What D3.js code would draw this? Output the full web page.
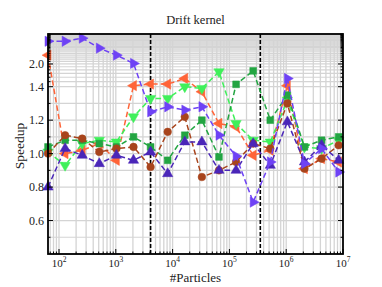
<!DOCTYPE html>
<html>
<head>
<meta charset="utf-8">
<script src="https://cdn.jsdelivr.net/npm/d3@7"></script>
<style>
  body { margin: 0; background: #fff; }
  text { font-family: "Liberation Serif", "DejaVu Serif", serif; fill: #222; }
</style>
</head>
<body>
<svg class="chart" width="382" height="287"></svg>
<script>
// particle counts: powers of two 2^6 .. 2^23
var particles = d3.range(6, 24).map(function(p) { return Math.pow(2, p); });

// speedup per run
var rightTri = [3.5, 3.5, 3.9, 2.85, 2.4, 2.02, 1.25, 1.28, 1.26, 1.28, 1.11, 0.985, 0.71, 0.95, 1.57, 0.94, 1.03, 0.89];
var leftTri  = [2.4, 1.0, 1.02, 1.06, 0.96, 1.42, 1.45, 1.45, 1.57, 1.37, 1.18, 1.16, 0.99, 1.02, 1.42, 0.91, 0.97, 0.95];
var downTri  = [1.01, 0.93, 1.06, 1.08, 1.07, 1.22, 1.33, 1.33, 1.40, 1.39, 1.745, 1.18, 1.08, 1.07, 1.32, 1.04, 1.03, 1.08];
var squares  = [1.04, 1.08, 1.08, 1.06, 1.04, 1.10, 1.04, 0.96, 1.11, 1.20, 0.98, 1.445, 1.77, 1.20, 1.35, 1.04, 1.08, 1.10];
var circles  = [1.0, 1.11, 1.09, 1.01, 1.03, 1.04, 0.92, 1.13, 1.22, 0.86, 0.90, 0.95, 1.06, 1.03, 1.30, 0.91, 0.97, 1.05];
var upTri    = [0.80, 1.03, 0.99, 0.94, 0.99, 0.96, 1.01, 0.88, 1.07, 1.07, 0.90, 0.90, 1.06, 0.93, 1.19, 0.95, 1.05, 0.96];

var cacheLines = [4096, 350000];
var yTicks = [0.6, 0.8, 1.0, 1.2, 1.4, 2.0];
var xTicks = [2, 3, 4, 5, 6, 7];

var series = [
  {vals: leftTri,  color: "#ff6438", sym: "left"},
  {vals: downTri,  color: "#3ff05a", sym: "down"},
  {vals: squares,  color: "#23a542", sym: "square"},
  {vals: circles,  color: "#a8441c", sym: "circle"},
  {vals: upTri,    color: "#4a26b8", sym: "up"},
  {vals: rightTri, color: "#6e42f5", sym: "right"}
];

var svg = d3.select("svg.chart");
var margin = {top: 34, right: 39, bottom: 33, left: 48};
var width = 382 - margin.left - margin.right,
    height = 287 - margin.top - margin.bottom;
var g = svg.append("g").attr("transform", "translate(" + margin.left + "," + margin.top + ")");

var x = d3.scaleLog().domain([64, 1e7]).range([0, width]);

// linear up to 1.4, squeezed (1/v) above it
var lin = d3.scaleLinear().domain([0.4, 1.4]).range([height, 52.7]);
var inv = d3.scaleLinear().domain([1 / 1.4, 1 / 4.6]).range([52.7, 0]);
var y = function(v) { return v <= 1.4 ? lin(v) : inv(1 / v); };

// grid
var xGrid = [];
for (var e = 1; e < 7; e++) for (var m = 1; m < 10; m++) {
  var v = m * Math.pow(10, e);
  if (v > 64 && v < 1e7) xGrid.push(v);
}
var yGrid = d3.range(4, 47).map(function(k) { return k / 10; });

g.selectAll(".vg").data(xGrid).enter().append("line")
    .attr("x1", function(d) { return x(d); }).attr("x2", function(d) { return x(d); })
    .attr("y1", 0).attr("y2", height)
    .attr("stroke", "#d4d4d4").attr("stroke-width", 1.3);
g.selectAll(".hg").data(yGrid).enter().append("line")
    .attr("x1", 0).attr("x2", width)
    .attr("y1", function(d) { return y(d); }).attr("y2", function(d) { return y(d); })
    .attr("stroke", "#d4d4d4").attr("stroke-width", 1.2);

// cache boundaries
g.selectAll(".cl").data(cacheLines).enter().append("line")
    .attr("x1", function(d) { return x(d); }).attr("x2", function(d) { return x(d); })
    .attr("y1", 0).attr("y2", height)
    .attr("stroke", "#000").attr("stroke-width", 1.6).attr("stroke-dasharray", "4,2");

// series
var line = d3.line()
    .x(function(d, i) { return x(particles[i]); })
    .y(function(d) { return y(d); });

var tri = d3.symbol().type(d3.symbolTriangle).size(46);
var rot = {up: 0, right: 90, down: 180, left: 270};

series.forEach(function(s) {
  g.append("path")
      .datum(s.vals)
      .attr("fill", "none")
      .attr("stroke", s.color)
      .attr("stroke-width", 1.5)
      .attr("stroke-dasharray", "5.5,3")
      .attr("d", line);
  var pts = g.selectAll(null).data(s.vals).enter().append("path")
      .attr("fill", s.color)
      .attr("stroke", s.color)
      .attr("stroke-width", 0.5);
  if (s.sym === "square") {
    pts.attr("d", d3.symbol().type(d3.symbolSquare).size(46)());
  } else if (s.sym === "circle") {
    pts.attr("d", d3.symbol().type(d3.symbolCircle).size(46)());
  } else {
    pts.attr("d", tri());
  }
  pts.attr("transform", function(d, i) {
    var r = rot[s.sym] || 0;
    return "translate(" + x(particles[i]) + "," + y(d) + ") rotate(" + r + ")";
  });
});

// frame
g.append("rect").attr("width", width).attr("height", height)
    .attr("fill", "none").attr("stroke", "#000").attr("stroke-width", 1.8);

// x ticks (inward)
var xMinor = xGrid.filter(function(d) { return Math.log10(d) % 1 !== 0; });
g.selectAll(".xmaj").data(xTicks).enter().append("line")
    .attr("x1", function(d) { return x(Math.pow(10, d)); }).attr("x2", function(d) { return x(Math.pow(10, d)); })
    .attr("y1", height).attr("y2", height - 5).attr("stroke", "#000");
g.selectAll(".xmin").data(xMinor).enter().append("line")
    .attr("x1", function(d) { return x(d); }).attr("x2", function(d) { return x(d); })
    .attr("y1", height).attr("y2", height - 2.5).attr("stroke", "#000");

var xl = g.selectAll(".xl").data(xTicks).enter().append("text")
    .attr("x", function(d) { return x(Math.pow(10, d)); })
    .attr("y", height + 13)
    .attr("text-anchor", "middle")
    .style("font-size", "11px");
xl.append("tspan").text("10");
xl.append("tspan").attr("dy", -5).style("font-size", "7.5px").text(function(d) { return d; });

// y ticks, both sides
var yMinor = yGrid.filter(function(d) { return yTicks.indexOf(d) < 0 && d > 0.4; });
[0, width].forEach(function(x0) {
  var dir = x0 === 0 ? 1 : -1;
  g.selectAll(null).data(yTicks).enter().append("line")
      .attr("x1", x0).attr("x2", x0 + dir * 5)
      .attr("y1", function(d) { return y(d); }).attr("y2", function(d) { return y(d); })
      .attr("stroke", "#000");
  g.selectAll(null).data(yMinor).enter().append("line")
      .attr("x1", x0).attr("x2", x0 + dir * 2.5)
      .attr("y1", function(d) { return y(d); }).attr("y2", function(d) { return y(d); })
      .attr("stroke", "#000");
});

g.selectAll(".yl").data(yTicks).enter().append("text")
    .attr("x", -4)
    .attr("y", function(d) { return y(d) + 4; })
    .attr("text-anchor", "end")
    .style("font-size", "12px")
    .text(function(d) { return d3.format(".1f")(d); });

// labels
svg.append("text")
    .attr("x", margin.left + width / 2).attr("y", 24)
    .attr("text-anchor", "middle")
    .style("font-size", "12.5px")
    .text("Drift kernel");
svg.append("text")
    .attr("x", margin.left + width / 2).attr("y", 282)
    .attr("text-anchor", "middle")
    .style("font-size", "13px")
    .text("#Particles");
svg.append("text")
    .attr("transform", "translate(24," + (margin.top + height / 2 + 2) + ") rotate(-90)")
    .attr("text-anchor", "middle")
    .style("font-size", "13.5px")
    .text("Speedup");
</script>
</body>
</html>
